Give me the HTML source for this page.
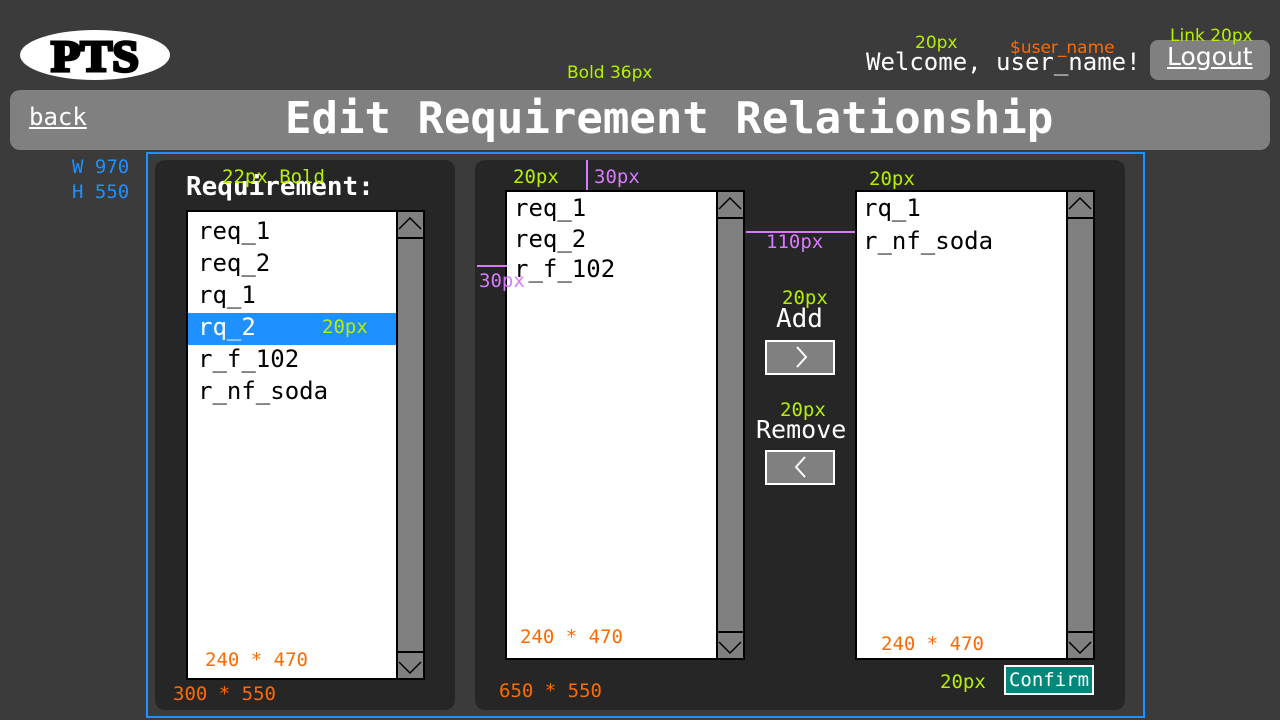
<!DOCTYPE html>
<html><head><meta charset="utf-8"><style>
*{margin:0;padding:0;box-sizing:border-box}
body{width:1280px;height:720px;background:#3b3b3b;position:relative;overflow:hidden;font-family:"DejaVu Sans Mono","Liberation Mono",monospace}
.a{position:absolute;white-space:nowrap}
.g{color:#b6f000}
.o{color:#ff6a00}
.p{color:#d67bff}
.s{font-family:"DejaVu Sans","Liberation Sans",sans-serif}
.list{position:absolute;background:#fff;border:2px solid #000}
.sb{position:absolute;background:#808080;border-left:2px solid #000}
.sb .up,.sb .dn{position:absolute;left:0;right:0;height:27px}
.sb .up{top:0;border-bottom:2px solid #000}
.sb .dn{bottom:0;border-top:2px solid #000}
.it{position:absolute;font-size:24px;color:#000;left:10px}
.btn{position:absolute;background:#808080;border:2px solid #fff}
</style></head><body>
<svg class="a" style="left:0;top:0" width="200" height="90"><ellipse cx="95" cy="55" rx="75" ry="25" fill="#fff"/><text x="95" y="71" text-anchor="middle" font-family="Liberation Serif,serif" font-weight="900" font-size="44" fill="#000" stroke="#000" stroke-width="3" textLength="88" lengthAdjust="spacingAndGlyphs">PTS</text></svg>
<div class="a s g" style="left:567px;top:63px;font-size:17px">Bold 36px</div>
<div class="a s g" style="left:915px;top:33px;font-size:17px">20px</div>
<div class="a s o" style="left:1010px;top:38px;font-size:17px">$user_name</div>
<div class="a" style="left:866px;top:48px;font-size:24px;color:#fff">Welcome, user_name!</div>
<div class="a" style="left:1150px;top:40px;width:120px;height:40px;background:#808080;border-radius:8px"></div>
<div class="a" style="left:1167px;top:42px;font-size:25px;color:#fff;text-decoration:underline;font-family:'DejaVu Sans','Liberation Sans',sans-serif">Logout</div>
<div class="a s g" style="left:1170px;top:26px;font-size:17px">Link 20px</div>
<div class="a" style="left:10px;top:90px;width:1260px;height:60px;background:#808080;border-radius:10px"></div>
<div class="a" style="left:29px;top:103px;font-size:24px;color:#fff;text-decoration:underline">back</div>
<div class="a" style="left:285px;top:93px;font-size:44px;font-weight:bold;color:#fff">Edit Requirement Relationship</div>
<div class="a" style="left:146px;top:152px;width:999px;height:566px;border:2px solid #1e90ff"></div>
<div class="a" style="left:72px;top:155px;font-size:19px;color:#1e90ff;line-height:25px">W 970<br>H 550</div>
<div class="a" style="left:155px;top:160px;width:300px;height:550px;background:#262626;border-radius:10px"></div>
<div class="a" style="left:475px;top:160px;width:650px;height:550px;background:#262626;border-radius:10px"></div>
<div class="a" style="left:186px;top:172px;font-size:26px;font-weight:bold;color:#fff">Requirement:</div>
<div class="a g" style="left:222px;top:166px;font-size:19px">22px Bold</div>
<div class="list" style="left:186px;top:210px;width:239px;height:470px">
 <div class="a" style="left:0;top:101px;width:210px;height:32px;background:#1e90ff"></div>
 <div class="it" style="top:5px">req_1</div>
 <div class="it" style="top:37px">req_2</div>
 <div class="it" style="top:69px">rq_1</div>
 <div class="it" style="top:101px;color:#fff">rq_2</div>
 <div class="a g" style="left:134px;top:104px;font-size:19px">20px</div>
 <div class="it" style="top:133px">r_f_102</div>
 <div class="it" style="top:165px">r_nf_soda</div>
 <div class="a o" style="left:17px;top:437px;font-size:19px">240 * 470</div>
 <div class="sb" style="left:208px;top:0;width:27px;height:466px"><div class="up"></div><div class="dn"></div></div>
</div>
<div class="a o" style="left:173px;top:683px;font-size:19px">300 * 550</div>
<div class="list" style="left:505px;top:190px;width:240px;height:470px">
 <div class="it" style="left:7px;top:2px">req_1</div>
 <div class="it" style="left:7px;top:33px">req_2</div>
 <div class="it" style="left:7px;top:63px">r_f_102</div>
 <div class="a o" style="left:13px;top:434px;font-size:19px">240 * 470</div>
 <div class="sb" style="left:209px;top:0;width:27px;height:466px"><div class="up"></div><div class="dn"></div></div>
</div>
<div class="list" style="left:855px;top:190px;width:240px;height:470px">
 <div class="it" style="left:6px;top:2px">rq_1</div>
 <div class="it" style="left:6px;top:35px">r_nf_soda</div>
 <div class="a o" style="left:24px;top:441px;font-size:19px">240 * 470</div>
 <div class="sb" style="left:209px;top:0;width:27px;height:466px"><div class="up"></div><div class="dn"></div></div>
</div>
<div class="a g" style="left:513px;top:166px;font-size:19px">20px</div>
<div class="a p" style="left:594px;top:166px;font-size:19px">30px</div>
<div class="a g" style="left:869px;top:168px;font-size:19px">20px</div>
<div class="a p" style="left:766px;top:231px;font-size:19px">110px</div>
<div class="a p" style="left:479px;top:270px;font-size:19px">30px</div>
<div class="a g" style="left:782px;top:287px;font-size:19px">20px</div>
<div class="a" style="left:776px;top:304px;font-size:26px;color:#fff">Add</div>
<div class="btn" style="left:765px;top:340px;width:70px;height:35px"></div>
<div class="a g" style="left:780px;top:399px;font-size:19px">20px</div>
<div class="a" style="left:756px;top:415px;font-size:25px;color:#fff">Remove</div>
<div class="btn" style="left:765px;top:450px;width:70px;height:35px"></div>
<div class="a o" style="left:499px;top:680px;font-size:19px">650 * 550</div>
<div class="a g" style="left:940px;top:671px;font-size:19px">20px</div>
<div class="a" style="left:1004px;top:665px;width:90px;height:30px;background:#00897b;border:2px solid #fff;color:#fff;font-size:19px;text-align:center;line-height:26px">Confirm</div>
<svg class="a" style="left:0;top:0" width="1280" height="720">
 <g fill="none" stroke="#000" stroke-width="1.5">
  <polyline points="399,229 410,218 421,229"/><polyline points="399,662 410,673 421,662"/>
  <polyline points="719,209 730,198 741,209"/><polyline points="719,642 730,653 741,642"/>
  <polyline points="1069,209 1080,198 1091,209"/><polyline points="1069,642 1080,653 1091,642"/>
 </g>
 <line x1="587" y1="160" x2="587" y2="190" stroke="#d67bff" stroke-width="2"/>
 <line x1="746" y1="232" x2="855" y2="232" stroke="#d67bff" stroke-width="2"/>
 <line x1="477" y1="266" x2="507" y2="266" stroke="#d67bff" stroke-width="2"/>
 <g fill="none" stroke="#fff" stroke-width="2"><polyline points="797,347 806,357 797,367"/><polyline points="805,457 796,467 805,477"/></g>
</svg>
</body></html>
